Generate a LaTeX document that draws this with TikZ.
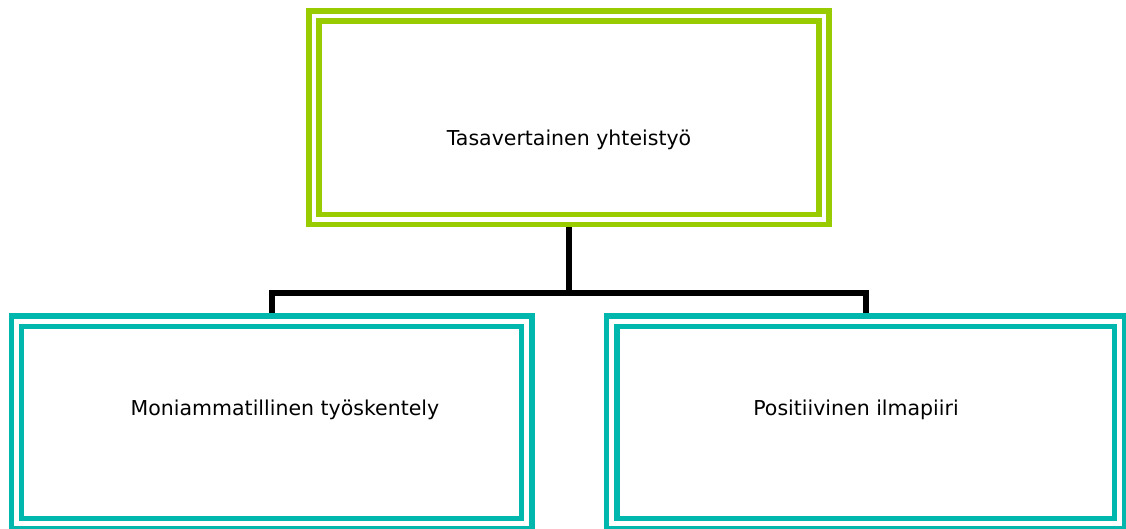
\documentclass[tikz,border=0pt]{standalone}
\usepackage{fontspec}
\setmainfont{DejaVu Sans}
\usetikzlibrary{backgrounds}
\definecolor{limegreen}{RGB}{153,204,0}
\definecolor{tealbox}{RGB}{0,183,173}
\tikzset{
  framebox/.style={draw, double=white, line width=5.5pt, double distance=4.8pt,
    inner sep=0pt},
  boxtext/.style={inner sep=0pt, font=\fontsize{20.5}{24}\selectfont},
  conn/.style={draw=black, line width=6pt, line join=miter}
}
\begin{document}
\begin{tikzpicture}[x=1pt,y=-1pt]
  \useasboundingbox (0,0) rectangle (1126,529);
  % top box
  \node[framebox, draw=limegreen, minimum width=510pt, minimum height=203.5pt]
    (top) at (569,117.75) {};
  \node[boxtext] (toptext) at (569,140) {Tasavertainen yhteistyö};
  % lower boxes
  \node[framebox, draw=tealbox, minimum width=510.25pt, minimum height=202.5pt]
    (left) at (271.6,422.5) {};
  \node[framebox, draw=tealbox, minimum width=508pt, minimum height=202.5pt]
    (right) at (865.75,422.5) {};
  \node[boxtext] (lefttext) at (285,410) {Moniammatillinen työskentely};
  \node[boxtext] (righttext) at (856,410) {Positiivinen ilmapiiri};
  % connectors
  \coordinate (bus) at (569,293);
  \begin{scope}[on background layer]
    \draw[conn] (top.south) -- (bus);
    \draw[conn] (left.north) |- (bus) -| (right.north);
  \end{scope}
\end{tikzpicture}
\end{document}
